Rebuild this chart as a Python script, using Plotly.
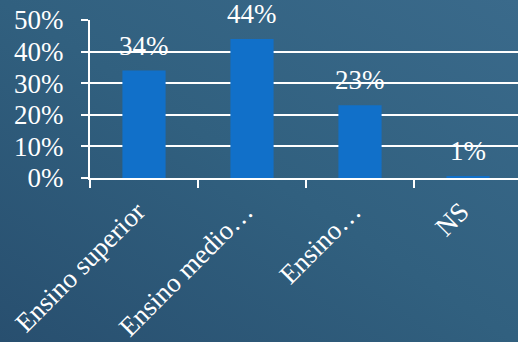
import base64
import plotly.graph_objects as go

# Education level shares
categories = ["Ensino superior", "Ensino medio…", "Ensino…", "NS"]
shares = [0.34, 0.44, 0.23, 0.006]

W, H = 518, 342
ML, MR, MT, MB = 90, 0, 20, 164
plot_w = W - ML - MR
plot_h = H - MT - MB
cat_px = 108  # pixel width of one category slot

FONT = "Liberation Serif"
NUM_SIZE = 27
CAT_SIZE = 27
WHITE = "#ffffff"
BAR = "#1170c9"

# Diagonal background gradient (darker bottom-left, lighter top-right)
svg = (
    f'<svg xmlns="http://www.w3.org/2000/svg" width="{W}" height="{H}">'
    '<defs><linearGradient id="g" x1="0" y1="1" x2="1" y2="0">'
    '<stop offset="0" stop-color="#284f6f"/>'
    '<stop offset="0.5" stop-color="#31607f"/>'
    '<stop offset="1" stop-color="#3a6a8b"/>'
    '</linearGradient></defs>'
    f'<rect width="{W}" height="{H}" fill="url(#g)"/></svg>'
)
bg_src = "data:image/svg+xml;base64," + base64.b64encode(svg.encode()).decode()

fig = go.Figure()
fig.add_trace(
    go.Bar(
        x=categories,
        y=shares,
        marker=dict(color=BAR, line=dict(width=0)),
        hoverinfo="skip",
    )
)

for c, v in zip(categories, shares):
    fig.add_annotation(
        x=c, y=v, text=f"{v:.0%}", showarrow=False,
        yanchor="middle", yshift=25,
        font=dict(family=FONT, size=NUM_SIZE, color=WHITE),
    )

fig.add_layout_image(
    source=bg_src, xref="paper", yref="paper",
    x=-ML / plot_w, y=1 + MT / plot_h,
    sizex=W / plot_w, sizey=H / plot_h,
    xanchor="left", yanchor="top", sizing="stretch", layer="below",
)

fig.update_layout(
    width=W, height=H,
    margin=dict(l=ML, r=MR, t=MT, b=MB, pad=0, autoexpand=False),
    paper_bgcolor="#31607f",
    plot_bgcolor="rgba(0,0,0,0)",
    bargap=0.6,
    showlegend=False,
    font=dict(family=FONT, size=NUM_SIZE, color=WHITE),
)
fig.update_xaxes(
    range=[-0.5, -0.5 + plot_w / cat_px],
    automargin=False,
    showline=True, linecolor=WHITE, linewidth=2,
    ticks="outside", tickson="boundaries", ticklen=8, tickwidth=2, tickcolor=WHITE,
    tickangle=-45, showgrid=False,
    ticklabelshift=-7, ticklabelstandoff=5,
    tickfont=dict(family=FONT, size=CAT_SIZE, color=WHITE),
)
fig.update_yaxes(
    range=[0, 0.5], dtick=0.1, tickformat=".0%",
    automargin=False,
    showline=True, linecolor=WHITE, linewidth=2,
    ticks="outside", ticklen=7, tickwidth=2, tickcolor=WHITE,
    showgrid=True, gridcolor=WHITE, gridwidth=2, zeroline=False,
    ticklabelstandoff=12,
    tickfont=dict(family=FONT, size=NUM_SIZE, color=WHITE),
)

fig.write_html("out.html")
